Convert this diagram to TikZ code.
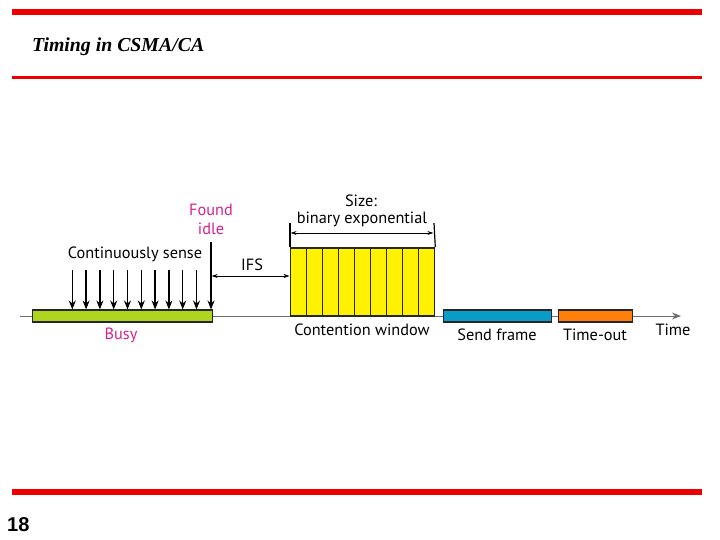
\documentclass[tikz,border=0pt]{standalone}
\usepackage{fontspec}
\setmainfont{Liberation Serif}
\newfontfamily\diag{PT Sans}
\newfontfamily\numfont{Liberation Sans}
\usetikzlibrary{arrows.meta}
\definecolor{barred}{HTML}{EE0000}
\definecolor{busygreen}{HTML}{AED41E}
\definecolor{labmag}{HTML}{D5208F}
\definecolor{sendblue}{HTML}{0A9CC8}
\definecolor{toorange}{HTML}{FF7F0A}
\definecolor{axisgray}{HTML}{707070}
\tikzset{
  lbl/.style={font=\diag\fontsize{16.3}{18}\selectfont, inner sep=0pt},
  maglbl/.style={lbl, text=labmag},
  seg/.style={draw=black!85, line width=1.3pt},
  sensearrow/.style={-{Stealth[length=9pt,width=7pt]}, line width=1.4pt},
  smallarrow/.style={{Stealth[length=6pt,width=4pt]}-{Stealth[length=6pt,width=4pt]}, line width=0.8pt},
}
\begin{document}
\begin{tikzpicture}[x=1pt,y=-1pt]
\useasboundingbox (0,0) rectangle (720,540);
% header and footer rules
\fill[barred] (12,9) rectangle (702,15.5);
\fill[barred] (12,76) rectangle (702,79);
\fill[barred] (12,489) rectangle (702,495);
\node[anchor=base west, inner sep=0pt, font=\bfseries\itshape\fontsize{19.8}{22}\selectfont] (title) at (32,52) {Timing in CSMA/CA};
\node[anchor=base west, inner sep=0pt, font=\numfont\bfseries\fontsize{20}{22}\selectfont] (pagenum) at (7,531) {18};
% time axis
\coordinate (axstart) at (20,316);
\coordinate (axend) at (681,316);
\draw[axisgray, line width=1pt, -{Stealth[length=9pt,width=7pt]}] (axstart) -- (axend);
% busy
\node[seg, fill=busygreen, minimum width=180pt, minimum height=12pt, inner sep=0pt, anchor=west] (busy) at (32,316) {};
\node[maglbl] (busylbl) at (121,335) {Busy};
% sensing arrows
\foreach \i in {0,...,9} {
  \coordinate (st\i) at ({72.3+13.8*\i},270);
  \coordinate (sb\i) at ({72.3+13.8*\i},309.5);
  \draw[sensearrow] (st\i) -- (sb\i);
}
\coordinate (idletop) at (211,242);
\coordinate (idlebot) at (211,309.5);
\draw[sensearrow] (idletop) -- (idlebot);
\node[lbl] (cont) at (135,254) {Continuously sense};
\node[maglbl, align=center] (found) at (211,219.5) {Found\\[1pt]idle};
% contention window
\foreach \i in {0,...,8} {
  \node[seg, fill=yellow, minimum width=16pt, minimum height=68pt, inner sep=0pt, anchor=south west] (slot\i) at ({290+16*\i},316.5) {};
}
\coordinate (ifsl) at (211.7,276);
\coordinate (ifsr) at (289.5,276);
\draw[smallarrow] (ifsl) -- (ifsr);
\node[lbl] (ifs) at (252,265) {IFS};
% size bracket
\coordinate (szl) at (290,223);
\coordinate (szr) at (434,223);
\draw[line width=1.2pt] (szl) -- (slot0.north west);
\draw[line width=1.2pt] (szr) -- (slot8.north east);
\coordinate (szal) at (290.6,233);
\coordinate (szar) at (433.4,233);
\draw[smallarrow] (szal) -- (szar);
\node[lbl] (size1) at (361,201) {Size:};
\node[lbl] (size2) at (362,219) {binary exponential};
\node[lbl] (cw) at (362,330) {Contention window};
% send frame / timeout
\node[seg, fill=sendblue, minimum width=108pt, minimum height=12pt, inner sep=0pt, anchor=west] (send) at (443,316) {};
\node[lbl] (sendlbl) at (497,335) {Send frame};
\node[seg, fill=toorange, minimum width=74pt, minimum height=12pt, inner sep=0pt, anchor=west] (tout) at (558,316) {};
\node[lbl] (toutlbl) at (595,335) {Time-out};
\node[lbl] (timelbl) at (673,330) {Time};
\end{tikzpicture}
\end{document}
